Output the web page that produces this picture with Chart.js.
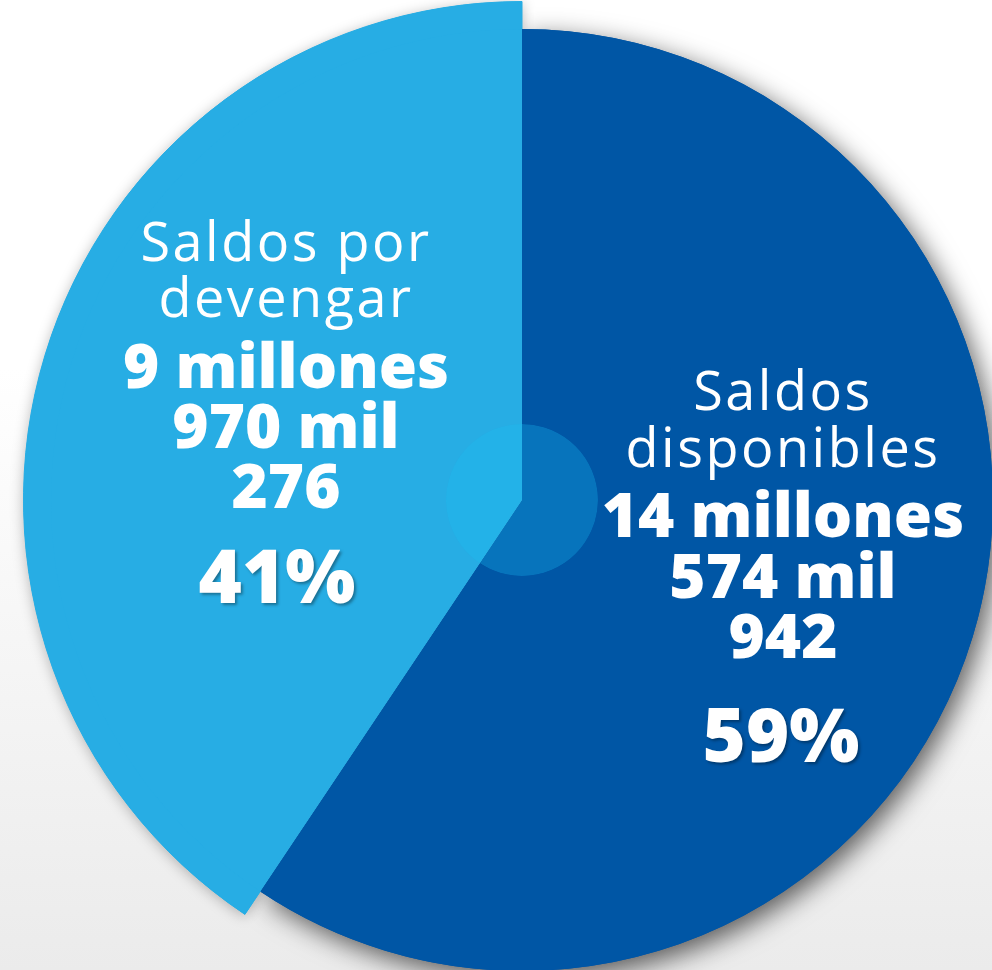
<!DOCTYPE html>
<html>
<head>
<meta charset="utf-8">
<script src="https://cdn.jsdelivr.net/npm/chart.js@4.4.1/dist/chart.umd.min.js"></script>
<style>
  html, body { margin: 0; padding: 0; width: 992px; height: 970px; overflow: hidden; }
  body {
    position: relative;
    background: linear-gradient(180deg, #ffffff 0%, #ffffff 38%, #f4f4f4 72%, #ebebeb 100%);
  }
  #wrap { position: absolute; left: -28px; top: -50px; width: 1100px; height: 1100px; }
</style>
</head>
<body>
<div id="wrap"><canvas id="c" width="1100" height="1100"></canvas></div>
<script>
// ---- data ----
const categories = ['Saldos disponibles', 'Saldos por devengar'];
const nameLines = [['Saldos', 'disponibles'], ['Saldos por', 'devengar']];
const amounts = [14574942, 9970276];
const sliceColors = ['#0056a5', '#27ade4'];
const hubColors = ['#0774bc', '#23b2e8'];

const total = amounts.reduce((a, b) => a + b, 0);
const percents = amounts.map(v => Math.round(v / total * 100) + '%');
function amountLines(v) {
  const m = Math.floor(v / 1e6), k = Math.floor(v / 1000) % 1000, u = v % 1000;
  return [m + ' millones', k + ' mil', String(u)];
}

// label layout (relative to pie centre)
const labelLayout = [
  { dx: 261, pdx: 259, base: [-90, -33, 37, 98, 158, 262] },
  { dx: -236, pdx: -245, base: [-239, -183, -112, -52, 8, 103] }
];

const shadowPlugin = {
  id: 'shadows',
  beforeDatasetsDraw(chart) {
    const ctx = chart.ctx;
    const main = chart.getDatasetMeta(1).data;
    const outer = chart.getDatasetMeta(0).data;
    ctx.save();
    let a = main[0];
    ctx.shadowColor = 'rgba(0,0,0,0.62)';
    ctx.shadowBlur = 26;
    ctx.shadowOffsetX = 6;
    ctx.shadowOffsetY = 8;
    ctx.fillStyle = sliceColors[0];
    ctx.beginPath();
    ctx.moveTo(a.x, a.y);
    ctx.arc(a.x, a.y, a.outerRadius, a.startAngle, a.endAngle);
    ctx.closePath();
    ctx.fill();
    let b = outer[1];
    ctx.shadowColor = 'rgba(0,0,0,0.28)';
    ctx.shadowBlur = 14;
    ctx.shadowOffsetX = 0;
    ctx.shadowOffsetY = 2;
    ctx.fillStyle = sliceColors[1];
    ctx.beginPath();
    ctx.moveTo(b.x, b.y);
    ctx.arc(b.x, b.y, b.outerRadius, b.startAngle, b.endAngle);
    ctx.closePath();
    ctx.fill();
    ctx.restore();
  }
};

const labelPlugin = {
  id: 'sliceLabels',
  afterDatasetsDraw(chart) {
    const ctx = chart.ctx;
    const c = chart.getDatasetMeta(1).data[0];
    const cx = c.x, cy = c.y;
    ctx.save();
    ctx.fillStyle = '#ffffff';
    ctx.textAlign = 'center';
    ctx.textBaseline = 'alphabetic';
    categories.forEach((cat, i) => {
      const L = labelLayout[i];
      const lines = [
        { t: nameLines[i][0], f: '400 54px "Open Sans"', ls: '2.5px', sh: false, x: L.dx },
        { t: nameLines[i][1], f: '400 54px "Open Sans"', ls: '2.5px', sh: false, x: L.dx },
        ...amountLines(amounts[i]).map(t => ({ t, f: '800 62px "Open Sans"', ls: '0px', sh: false, x: L.dx })),
        { t: percents[i], f: '800 74px "Open Sans"', ls: '0px', sh: true, x: L.pdx }
      ];
      lines.forEach((ln, j) => {
        ctx.font = ln.f;
        if ('letterSpacing' in ctx) ctx.letterSpacing = ln.ls;
        if (ln.sh) {
          ctx.shadowColor = 'rgba(0,0,0,0.35)';
          ctx.shadowBlur = 3;
          ctx.shadowOffsetX = 2;
          ctx.shadowOffsetY = 2;
        } else {
          ctx.shadowColor = 'rgba(0,0,0,0)';
          ctx.shadowBlur = 0;
          ctx.shadowOffsetX = 0;
          ctx.shadowOffsetY = 0;
        }
        ctx.fillText(ln.t, cx + ln.x, cy + L.base[j]);
      });
    });
    ctx.restore();
  }
};

new Chart(document.getElementById('c'), {
  type: 'pie',
  data: {
    labels: categories,
    datasets: [
      {
        data: amounts,
        backgroundColor: ['rgba(0,0,0,0)', sliceColors[1]],
        borderColor: ['rgba(0,0,0,0)', sliceColors[1]],
        borderWidth: 1,
        weight: 27.5
      },
      {
        data: amounts,
        backgroundColor: sliceColors,
        borderWidth: 0,
        weight: 395
      },
      {
        data: amounts,
        backgroundColor: hubColors,
        borderWidth: 0,
        weight: 76
      }
    ]
  },
  options: {
    responsive: false,
    animation: false,
    events: [],
    layout: { padding: 51 },
    elements: { arc: { offset: 0, hoverOffset: 0 } },
    plugins: { legend: { display: false }, tooltip: { enabled: false } }
  },
  plugins: [shadowPlugin, labelPlugin]
});
</script>
</body>
</html>
